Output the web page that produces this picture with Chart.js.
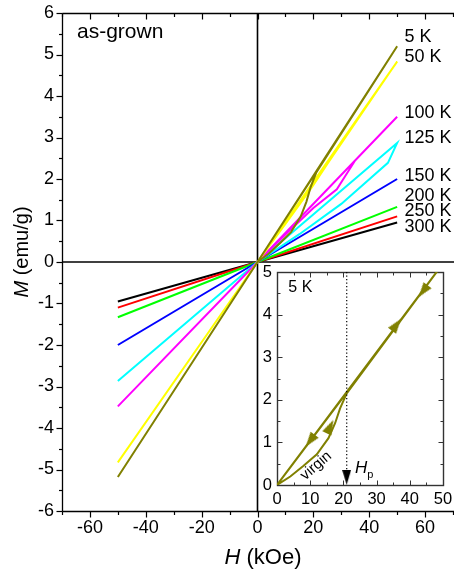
<!DOCTYPE html>
<html><head><meta charset="utf-8">
<script src="https://cdn.jsdelivr.net/npm/chart.js@4.4.1/dist/chart.umd.min.js"></script>
<style>
html,body{margin:0;padding:0;background:#fff;}
#wrap{position:relative;width:454px;height:572px;overflow:hidden;background:#fff;}
#main{position:absolute;left:0;top:0;width:454px;height:572px;}
#inset{position:absolute;left:240px;top:258px;width:214px;height:262px;}
</style></head><body>
<div id="wrap"><canvas id="main" width="454" height="572"></canvas><canvas id="inset" width="214" height="262"></canvas></div>
<script>
const FONT = "'Liberation Sans', Arial, Helvetica, sans-serif";

// ---- data ----
const temps  = ['5 K', '50 K', '100 K', '125 K', '150 K', '200 K', '250 K', '300 K'];
const colors = ['#808000', '#ffff00', '#ff00ff', '#00ffff', '#0000ff', '#00ff00', '#ff0000', '#000000'];

const H_5K   = [0, 4, 8, 12, 15.5, 17.5, 19, 21, 50, 0, -50, 0, 21, 50];
const M_5K   = [0, 0.2, 0.45, 0.72, 1.1, 1.45, 1.8, 2.15, 5.2, 0, -5.18, 0, 2.17, 5.2];
const H_50K  = [0, 10, 19.5, 25, 50, 0, -50, 0, 50];
const M_50K  = [0, 0.92, 1.8, 2.36, 4.83, 0, -4.83, 0, 4.83];
const H_100K = [0, 10, 20, 28.4, 35, 50, 0, -50, 0, 50];
const M_100K = [0, 0.66, 1.3, 1.75, 2.45, 3.5, 0, -3.48, 0, 3.5];
const H_125K = [0, 15, 30, 46.7, 50, 0, -50, 0, 50];
const M_125K = [0, 0.67, 1.4, 2.39, 2.87, 0, -2.87, 0, 2.87];
const H_150K = [-50, 0, 50];
const M_150K = [-2.0, 0, 2.0];
const H_200K = [-50, 0, 50];
const M_200K = [-1.33, 0, 1.33];
const H_250K = [-50, 0, 50];
const M_250K = [-1.1, 0, 1.1];
const H_300K = [-50, 0, 50];
const M_300K = [-0.95, 0, 0.95];

const seriesH = [H_5K, H_50K, H_100K, H_125K, H_150K, H_200K, H_250K, H_300K];
const seriesM = [M_5K, M_50K, M_100K, M_125K, M_150K, M_200K, M_250K, M_300K];

const xTickVals = [-60, -40, -20, 0, 20, 40, 60];
const yTickVals = [-6, -5, -4, -3, -2, -1, 0, 1, 2, 3, 4, 5, 6];
const insetXTicks = [0, 10, 20, 30, 40, 50];
const insetYTicks = [0, 1, 2, 3, 4, 5];

// inset: direction arrows on the 5 K loop (position and a point further along the branch)
const arrowH   = [10, 44, 36, 16];
const arrowM   = [1.04, 4.55, 3.76, 1.37];
const arrowToH = [9, 43, 37, 17];
const arrowToM = [0.936, 4.446, 3.864, 1.53];
const Hp = 21;           // kOe
const HpTop = 5, HpBottom = 0.35, HpArrowM = 0.18;

// ---- annotation anchors (layout, data coordinates) ----
const labelAnchorH = 52.6;
const labelAnchorM = [5.42, 4.93, 3.59, 2.99, 2.07, 1.59, 1.23, 0.84];

function line(ctx, x1, y1, x2, y2) { ctx.beginPath(); ctx.moveTo(x1, y1); ctx.lineTo(x2, y2); ctx.stroke(); }

function mixedText(ctx, parts, x, y, align) {
  let total = 0;
  parts.forEach(p => { ctx.font = p.font; total += ctx.measureText(p.t).width; });
  let cx = align === 'center' ? x - total / 2 : x;
  ctx.textAlign = 'left';
  parts.forEach(p => { ctx.font = p.font; ctx.fillText(p.t, cx, y + (p.dy || 0)); cx += ctx.measureText(p.t).width; });
}

function triangleImage(w, h, color) {
  const c = document.createElement('canvas');
  c.width = w; c.height = h;
  const g = c.getContext('2d');
  g.fillStyle = color;
  g.beginPath(); g.moveTo(w / 2, 0); g.lineTo(w, h); g.lineTo(0, h); g.closePath(); g.fill();
  return c;
}
const oliveArrow = triangleImage(10, 15, '#808000');
const blackArrow = triangleImage(9, 15, '#000000');

function noPadV(s) { s.paddingTop = 0; s.paddingBottom = 0; }
function noPadH(s) { s.paddingLeft = 0; s.paddingRight = 0; }

// ---- main chart ----
const mainFrame = {
  id: 'mainFrame',
  beforeDatasetsDraw(chart) {
    const { ctx, chartArea: a, scales: { x, y } } = chart;
    ctx.save();
    ctx.strokeStyle = '#000';
    ctx.lineWidth = 1.3;
    const L = Math.round(a.left) + 0.5, B = Math.round(a.bottom) + 0.5, T = Math.round(a.top) + 0.5, R = a.right + 2;
    line(ctx, L, T, L, B); line(ctx, L, B, R, B); line(ctx, L, T, R, T);
    ctx.lineWidth = 1.6;
    const x0 = x.getPixelForValue(0), y0 = y.getPixelForValue(0);
    line(ctx, x0, T, x0, B); line(ctx, L, y0, R, y0);
    ctx.lineWidth = 1.2;
    for (let v = -6; v <= 6; v += 0.5) {
      const p = Math.round(y.getPixelForValue(v)) + 0.5;
      const len = Number.isInteger(v) ? 6 : 3.5;
      line(ctx, L - len, p, L, p);
    }
    for (let v = -70; v <= 70; v += 10) {
      const p = Math.round(x.getPixelForValue(v)) + 0.5;
      const len = (v % 20 === 0) ? 6 : 3.5;
      line(ctx, p, B, p, B + len);
      line(ctx, p, T, p, T + len);
    }
    ctx.restore();
  },
  afterDraw(chart) {
    const { ctx, scales: { x, y } } = chart;
    ctx.save();
    ctx.fillStyle = '#000';
    ctx.textBaseline = 'alphabetic';
    ctx.font = '21px ' + FONT;
    ctx.textAlign = 'left';
    ctx.fillText('as-grown', 77, 38);
    ctx.font = '18px ' + FONT;
    ctx.textBaseline = 'middle';
    temps.forEach((t, i) => {
      ctx.fillText(t, x.getPixelForValue(labelAnchorH), y.getPixelForValue(labelAnchorM[i]));
    });
    ctx.textBaseline = 'alphabetic';
    mixedText(ctx, [{ t: 'H', font: 'italic 22px ' + FONT }, { t: ' (kOe)', font: '22px ' + FONT }], 263, 564, 'center');
    ctx.translate(28, 252);
    ctx.rotate(-Math.PI / 2);
    mixedText(ctx, [{ t: 'M', font: 'italic 20px ' + FONT }, { t: ' (emu/g)', font: '20px ' + FONT }], 0, 0, 'center');
    ctx.restore();
  }
};

const mainDatasets = temps.map((t, i) => ({
  label: t,
  data: seriesH[i].map((h, j) => ({ x: h, y: seriesM[i][j] })),
  borderColor: colors[i],
  backgroundColor: colors[i],
  borderWidth: 2,
  showLine: true,
  pointRadius: 0,
  fill: false,
  tension: 0
}));

new Chart(document.getElementById('main'), {
  type: 'scatter',
  data: { datasets: mainDatasets },
  options: {
    responsive: false, animation: false, devicePixelRatio: 1,
    layout: { padding: { left: 0, top: 13, right: 1, bottom: 0 } },
    plugins: { legend: { display: false }, tooltip: { enabled: false } },
    scales: {
      x: {
        type: 'linear', position: 'bottom', min: -70, max: 70,
        afterBuildTicks: s => { s.ticks = xTickVals.map(v => ({ value: v })); },
        afterFit: s => { s.height = 61; noPadH(s); },
        grid: { display: false, drawTicks: false }, border: { display: false },
        ticks: { font: { family: FONT, size: 18 }, color: '#000', padding: 6, maxRotation: 0, autoSkip: false }
      },
      y: {
        type: 'linear', position: 'left', min: -6, max: 6,
        afterBuildTicks: s => { s.ticks = yTickVals.map(v => ({ value: v })); },
        afterFit: s => { s.width = 62; noPadV(s); },
        grid: { display: false, drawTicks: false }, border: { display: false },
        ticks: { font: { family: FONT, size: 18 }, color: '#000', padding: 8, autoSkip: false }
      }
    }
  },
  plugins: [mainFrame]
});

// ---- inset chart ----
const insetFrame = {
  id: 'insetFrame',
  beforeDatasetsDraw(chart) {
    const { ctx, chartArea: a, scales: { x, y } } = chart;
    ctx.save();
    ctx.fillStyle = '#fff';
    ctx.fillRect(a.left, a.top, a.right - a.left, a.bottom - a.top);
    ctx.strokeStyle = '#333';
    ctx.lineWidth = 1.4;
    const L = Math.round(a.left) + 0.5, B = Math.round(a.bottom) + 0.5, T = Math.round(a.top) + 0.5, R = Math.round(a.right) + 0.5;
    ctx.strokeRect(L, T, R - L, B - T);
    ctx.lineWidth = 1;
    for (let v = 0; v <= 50; v += 5) {
      const p = Math.round(x.getPixelForValue(v)) + 0.5;
      const len = (v % 10 === 0) ? 5 : 3;
      line(ctx, p, B, p, B - len); line(ctx, p, T, p, T + len);
    }
    for (let v = 0; v <= 5; v += 0.5) {
      const p = Math.round(y.getPixelForValue(v)) + 0.5;
      const len = Number.isInteger(v) ? 5 : 3;
      line(ctx, L, p, L + len, p); line(ctx, R, p, R - len, p);
    }
    ctx.restore();
  },
  afterDraw(chart) {
    const { ctx, scales: { x, y } } = chart;
    ctx.save();
    ctx.fillStyle = '#000';
    ctx.textBaseline = 'alphabetic';
    ctx.font = '16px ' + FONT;
    ctx.textAlign = 'left';
    ctx.fillText('5 K', x.getPixelForValue(3.4), y.getPixelForValue(4.54));
    mixedText(ctx, [{ t: 'H', font: 'italic 17px ' + FONT }, { t: 'p', font: '11px ' + FONT, dy: 5 }],
      x.getPixelForValue(23.5), y.getPixelForValue(0.28), 'left');
    ctx.translate(x.getPixelForValue(11.8), y.getPixelForValue(0.45));
    ctx.rotate(-41 * Math.PI / 180);
    ctx.font = '15px ' + FONT;
    ctx.textAlign = 'center';
    ctx.textBaseline = 'middle';
    ctx.fillText('virgin', 0, 0);
    ctx.restore();
  }
};

new Chart(document.getElementById('inset'), {
  type: 'scatter',
  data: {
    datasets: [
      {
        data: [{ x: Hp, y: HpTop }, { x: Hp, y: HpBottom }],
        showLine: true, borderColor: '#000', borderWidth: 1.2, borderDash: [1.3, 2.2], pointRadius: 0
      },
      {
        data: [{ x: Hp, y: HpArrowM }],
        pointStyle: blackArrow, rotation: 180, pointRadius: 5, showLine: false
      },
      {
        data: arrowH.map((h, i) => ({ x: h, y: arrowM[i] })),
        pointStyle: oliveArrow, pointRadius: 5, showLine: false,
        rotation: ctx => {
          const ch = ctx.chart, i = ctx.dataIndex;
          const xs = ch.scales.x, ys = ch.scales.y;
          if (!xs || !ys || i === undefined) return 0;
          const dx = xs.getPixelForValue(arrowToH[i]) - xs.getPixelForValue(arrowH[i]);
          const dy = ys.getPixelForValue(arrowToM[i]) - ys.getPixelForValue(arrowM[i]);
          const r = Math.atan2(dx, -dy) * 180 / Math.PI;
          return isFinite(r) ? r : 0;
        }
      },
      {
        data: H_5K.map((h, j) => ({ x: h, y: M_5K[j] })),
        showLine: true, borderColor: '#808000', borderWidth: 2, pointRadius: 0, tension: 0
      }
    ]
  },
  options: {
    responsive: false, animation: false, devicePixelRatio: 1,
    layout: { padding: { left: 0, top: 14, right: 11, bottom: 0 } },
    plugins: { legend: { display: false }, tooltip: { enabled: false } },
    scales: {
      x: {
        type: 'linear', position: 'bottom', min: 0, max: 50,
        afterBuildTicks: s => { s.ticks = insetXTicks.map(v => ({ value: v })); },
        afterFit: s => { s.height = 35; noPadH(s); },
        grid: { display: false, drawTicks: false }, border: { display: false },
        ticks: { font: { family: FONT, size: 16.5 }, color: '#000', padding: 5, maxRotation: 0, autoSkip: false }
      },
      y: {
        type: 'linear', position: 'left', min: 0, max: 5,
        afterBuildTicks: s => { s.ticks = insetYTicks.map(v => ({ value: v })); },
        afterFit: s => { s.width = 37; noPadV(s); },
        grid: { display: false, drawTicks: false }, border: { display: false },
        ticks: { font: { family: FONT, size: 16.5 }, color: '#000', padding: 5, autoSkip: false }
      }
    }
  },
  plugins: [insetFrame]
});
</script>
</body></html>
